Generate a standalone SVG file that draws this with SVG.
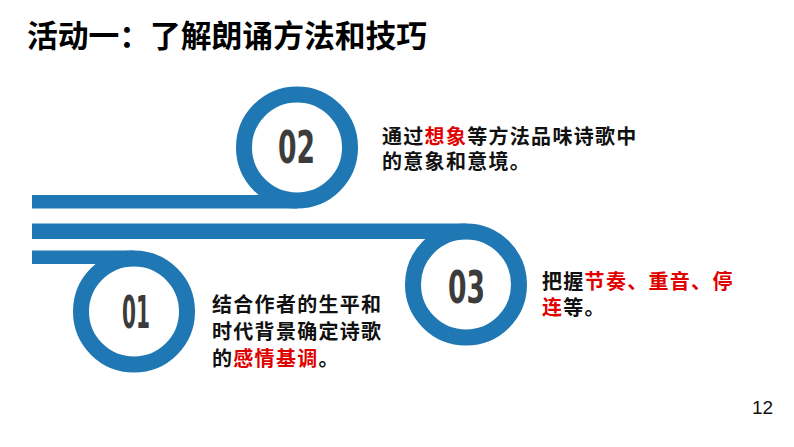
<svg xmlns="http://www.w3.org/2000/svg" width="794" height="447" viewBox="0 0 794 447">
<style>
.bar{fill:#1F78B4}
.ring{fill:#fff;stroke:#1F78B4;stroke-width:16}
.num{font-family:"DejaVu Sans Condensed","DejaVu Sans",sans-serif;font-weight:bold;font-size:44px;fill:#3C3C3C}
.txt{font-family:"Noto Sans CJK SC",sans-serif;font-weight:bold;font-size:20px;letter-spacing:1.3px;fill:#111}
.red{fill:#E00000}
.title{font-family:"Noto Sans CJK SC",sans-serif;font-weight:bold;font-size:30.8px;fill:#000}
.pg{font-family:"Liberation Sans",Arial,sans-serif;font-size:19px;fill:#111}
</style>
<rect width="794" height="447" fill="#fff"/>
<text class="title" x="27" y="47" textLength="400" lengthAdjust="spacing">活动一：了解朗诵方法和技巧</text>
<g id="connectors">
<rect class="bar" x="32" y="195" width="265" height="13.5"/>
<rect class="bar" x="32" y="223.5" width="434" height="15.5"/>
<rect class="bar" x="32" y="250.5" width="102" height="13.5"/>
</g>
<g id="node-02">
<circle class="ring" cx="297" cy="147.5" r="53"/>
<text class="num" x="278" y="163" textLength="37" lengthAdjust="spacingAndGlyphs">02</text>
<text class="txt" x="382" y="143.5">通过<tspan class="red">想象</tspan>等方法品味诗歌中</text>
<text class="txt" x="382" y="168.5">的意象和意境。</text>
</g>
<g id="node-03">
<circle class="ring" cx="466" cy="284.5" r="53"/>
<text class="num" x="448" y="303" textLength="37" lengthAdjust="spacingAndGlyphs">03</text>
<text class="txt" x="542" y="289">把握<tspan class="red">节奏、重音、停</tspan></text>
<text class="txt" x="542" y="315"><tspan class="red">连</tspan>等。</text>
</g>
<g id="node-01">
<circle class="ring" cx="134" cy="311.5" r="53"/>
<text class="num" x="122" y="328" textLength="28" lengthAdjust="spacingAndGlyphs">01</text>
<text class="txt" x="212" y="312">结合作者的生平和</text>
<text class="txt" x="212" y="339">时代背景确定诗歌</text>
<text class="txt" x="212" y="366">的<tspan class="red">感情基调</tspan>。</text>
</g>
<text class="pg" x="752" y="414">12</text>
</svg>
